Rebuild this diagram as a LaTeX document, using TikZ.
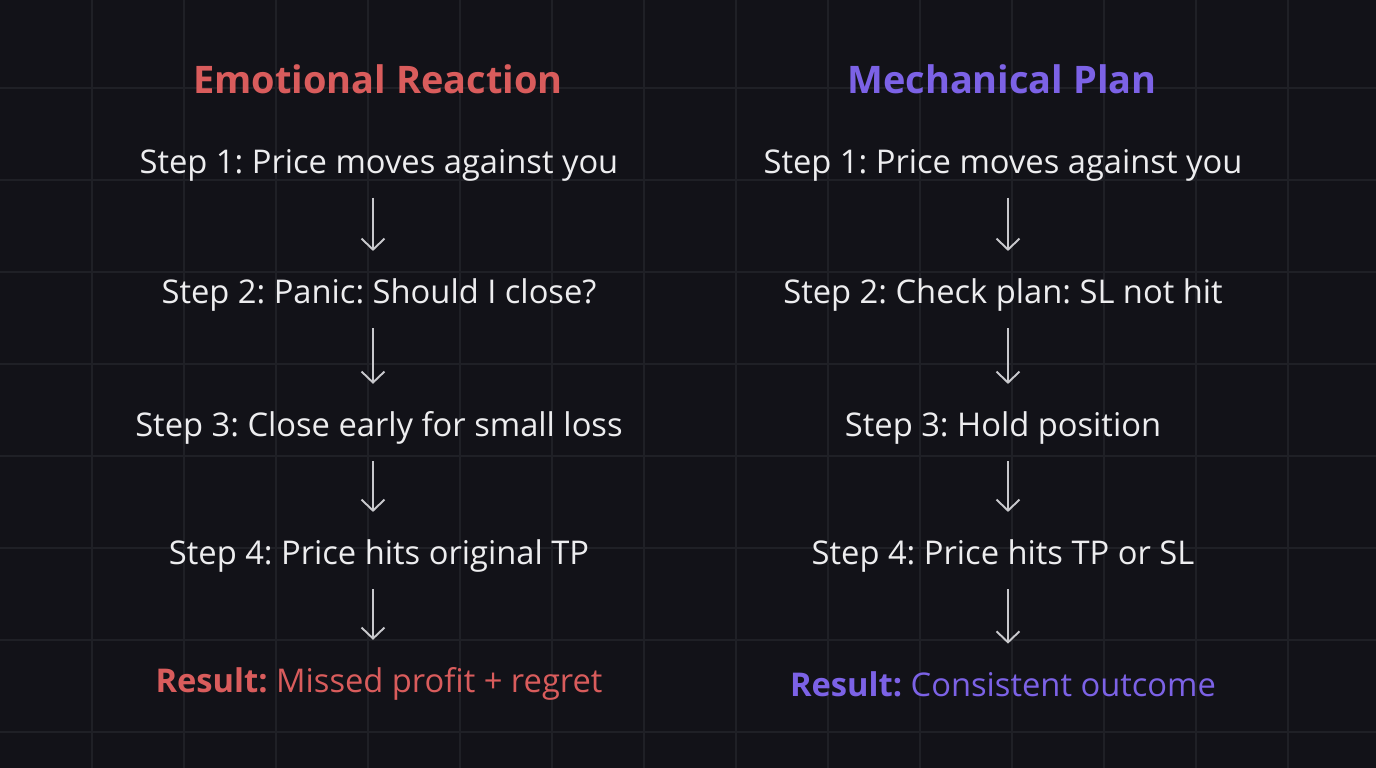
\documentclass[tikz,border=0pt]{standalone}
\usepackage{fontspec}
\setmainfont{Open Sans}
\usepackage{tikz}
\usetikzlibrary{arrows.meta}
\frenchspacing

\definecolor{bgdark}{HTML}{121218}
\definecolor{gridline}{HTML}{1F2026}
\definecolor{stepwhite}{HTML}{EDEDEF}
\definecolor{arrowgray}{HTML}{C8C8CC}
\definecolor{emored}{HTML}{D95C5C}
\definecolor{mechpurple}{HTML}{7C62E6}

\tikzset{
  title/.style={font=\fontsize{10.8}{0}\selectfont\bfseries},
  stepline/.style={text=stepwhite, font=\fontsize{9.3}{0}\selectfont, inner sep=0pt},
  resultline/.style={font=\fontsize{9.3}{0}\selectfont, inner sep=0pt},
  flow/.style={draw=arrowgray, line width=0.55pt, -{Straight Barb[length=1.1mm, width=2.3mm, line width=0.55pt]}}
}

\begin{document}
\begin{tikzpicture}
\fill[bgdark] (0,0) rectangle (13.76,7.68);
\useasboundingbox (0,0) rectangle (13.76,7.68);

% faint grid
\foreach \x in {0.92,1.84,...,13.0} \draw[gridline, line width=0.4pt] (\x,0) -- (\x,7.68);
\foreach \y in {0.36,1.28,...,7.0} \draw[gridline, line width=0.4pt] (0,\y) -- (13.76,\y);

% left column
\node (ET) at (3.78, 6.89) [title, text=emored] {Emotional Reaction};
\node (E1) at (3.79, 6.03) [stepline] {Step 1: Price moves against you};
\node (E2) at (3.79, 4.73) [stepline] {Step 2: Panic: Should I close?};
\node (E3) at (3.79, 3.40) [stepline] {Step 3: Close early for small loss};
\node (E4) at (3.79, 2.12) [stepline] {Step 4: Price hits original TP};
\node (ER) at (3.79, 0.84) [resultline, text=emored] {\textbf{Result:} Missed profit + regret};

% right column
\node (MT) at (10.02, 6.89) [title, text=mechpurple] {Mechanical Plan};
\node (M1) at (10.03, 6.03) [stepline] {Step 1: Price moves against you};
\node (M2) at (10.03, 4.73) [stepline] {Step 2: Check plan: SL not hit};
\node (M3) at (10.03, 3.40) [stepline] {Step 3: Hold position};
\node (M4) at (10.03, 2.12) [stepline] {Step 4: Price hits TP or SL};
\node (MR) at (10.03, 0.84) [resultline, text=mechpurple] {\textbf{Result:} Consistent outcome};

\draw[flow] ([xshift=-0.06cm, yshift=-0.16cm]E1.south) -- ([xshift=-0.06cm, yshift=0.27cm]E2.north);
\draw[flow] ([xshift=-0.06cm, yshift=-0.16cm]E2.south) -- ([xshift=-0.06cm, yshift=0.27cm]E3.north);
\draw[flow] ([xshift=-0.06cm, yshift=-0.16cm]E3.south) -- ([xshift=-0.06cm, yshift=0.27cm]E4.north);
\draw[flow] ([xshift=-0.06cm, yshift=-0.16cm]E4.south) -- ([xshift=-0.06cm, yshift=0.27cm]ER.north);

\draw[flow] ([xshift=0.05cm, yshift=-0.16cm]M1.south) -- ([xshift=0.05cm, yshift=0.27cm]M2.north);
\draw[flow] ([xshift=0.05cm, yshift=-0.16cm]M2.south) -- ([xshift=0.05cm, yshift=0.27cm]M3.north);
\draw[flow] ([xshift=0.05cm, yshift=-0.16cm]M3.south) -- ([xshift=0.05cm, yshift=0.27cm]M4.north);
\draw[flow] ([xshift=0.05cm, yshift=-0.16cm]M4.south) -- ([xshift=0.05cm, yshift=0.27cm]MR.north);

\end{tikzpicture}
\end{document}
